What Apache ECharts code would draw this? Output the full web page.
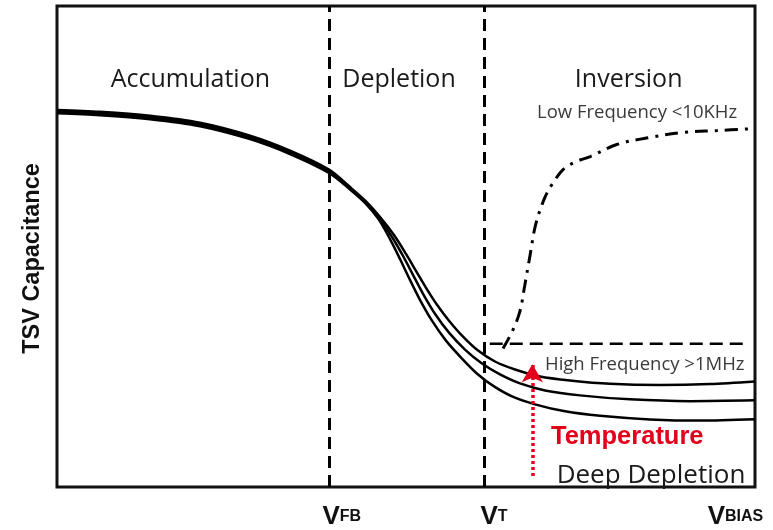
<!DOCTYPE html>
<html>
<head>
<meta charset="utf-8">
<script src="https://cdn.jsdelivr.net/npm/echarts@6/dist/echarts.min.js"></script>
<style>
  html, body { margin: 0; padding: 0; background: #fff; }
  #chart { width: 773px; height: 530px; }
</style>
</head>
<body>
<div id="chart"></div>
<script>
// C–V characteristic of a TSV (MOS-like) structure, arbitrary units.
// Bias (x) runs 0..100, capacitance (y) runs 0..100.

// High-frequency curves at three temperatures (low, mid, high)
const hfLowT = [
  [0, 77.70], [6.16, 77.29], [13.32, 76.46], [20.49, 75.01], [27.65, 72.32], [33.38, 69.22],
  [38.97, 65.28], [41.98, 61.86], [44.13, 59.07], [46.06, 55.69], [47.71, 51.55], [49.14, 47.41],
  [50.57, 43.06], [52.0, 38.92], [53.72, 34.58], [55.73, 30.43], [58.02, 26.71], [60.32, 23.40],
  [62.61, 20.91], [65.19, 18.84], [68.48, 17.18], [72.78, 15.73], [77.79, 14.80], [84.96, 14.05],
  [92.12, 13.80], [100, 14.08]
];
const hfMidT = [
  [0, 78.05], [6.16, 77.64], [13.32, 76.81], [20.49, 75.36], [27.65, 72.67], [33.38, 69.57],
  [38.97, 65.63], [41.98, 62.11], [44.13, 59.32], [46.13, 55.90], [48.0, 51.97], [49.57, 48.03],
  [51.0, 44.10], [52.44, 40.17], [54.15, 36.02], [56.16, 32.09], [58.45, 28.57], [60.89, 25.67],
  [63.47, 23.40], [66.33, 21.53], [69.91, 20.08], [74.93, 19.05], [82.09, 18.22], [90.69, 17.85],
  [100, 18.01]
];
const hfHighT = [
  [0, 78.40], [6.16, 77.99], [13.32, 77.16], [20.49, 75.71], [27.65, 73.02], [33.38, 69.92],
  [38.97, 65.98], [41.98, 62.36], [44.13, 59.57], [46.28, 56.11], [48.28, 52.38], [50.0, 48.45],
  [51.43, 44.93], [52.87, 41.41], [54.44, 37.89], [56.16, 34.58], [58.17, 31.26], [60.32, 28.36],
  [62.75, 26.09], [65.62, 24.43], [69.2, 22.98], [73.5, 22.15], [79.23, 21.45], [86.39, 21.20],
  [93.55, 21.40], [100, 21.95]
];

// Low-frequency response, recovering towards the oxide capacitance
const lfCurve = [
  [63.9, 28.8], [65.2, 32.3], [66.3, 36.4], [67.0, 41.8], [67.8, 48.4], [68.6, 54.7],
  [69.9, 60.2], [71.1, 63.3], [72.5, 66.0], [74.3, 67.6], [76.4, 68.7], [80.2, 71.2],
  [85.0, 72.7], [89.7, 73.7], [94.6, 74.1], [99.6, 74.5]
];

// High-frequency inversion level
const hfLevel = [[62.0, 29.8], [99.0, 29.8]];

// Characteristic voltages
const vFlatBand = 39.0;
const vThreshold = 61.2;

// Tick labels on the bias axis (subscripts of V) and their positions
const tickSubs = ['FB', 'T', 'BIAS'];
const tickPos = [40.8, 62.6, 97.2];

// Temperature arrow (start, end)
const tempArrow = [[68.1, 2.3], [68.1, 25.5]];

// Region names and annotations
const regionNames = ['Accumulation', 'Depletion', 'Inversion'];
const regionPos = [[19.1, 84.7], [49.0, 84.7], [81.9, 84.7]];
const noteTexts = ['Low Frequency <10KHz', 'High Frequency >1MHz', 'Temperature', 'Deep Depletion'];
const notePos = [[83.1, 77.8], [84.2, 25.5], [81.7, 10.4], [85.1, 2.4]];

const textFont = '"Open Sans", "Noto Sans", sans-serif';
const boldFont = '"Liberation Sans", Arial, sans-serif';
const noteStyles = [
  { fontSize: 18.5, color: '#3a3a3a', fontFamily: textFont },
  { fontSize: 18.5, color: '#3a3a3a', fontFamily: textFont },
  { fontSize: 25.5, color: '#e3001b', fontWeight: 'bold', fontFamily: boldFont },
  { fontSize: 26, color: '#1a1a1a', fontFamily: textFont }
];

const chart = echarts.init(document.getElementById('chart'), null, { renderer: 'canvas' });

const curveStyle = { color: '#000', width: 2.5 };
function hfSeries(data) {
  return {
    type: 'line', data: data, smooth: 0.3, symbol: 'none',
    lineStyle: curveStyle, silent: true, z: 3
  };
}

const labelItems = regionNames.map((t, i) => ({
  value: regionPos[i],
  label: { show: true, position: 'inside', formatter: t, fontSize: 25, color: '#1a1a1a', fontFamily: textFont }
})).concat(noteTexts.map((t, i) => ({
  value: notePos[i],
  label: Object.assign({ show: true, position: 'inside', formatter: t }, noteStyles[i])
})));

chart.setOption({
  animation: false,
  backgroundColor: '#fff',
  grid: {
    left: 57, right: 18, top: 6, bottom: 41,
    show: true, borderColor: '#111', borderWidth: 3, backgroundColor: 'transparent'
  },
  xAxis: {
    type: 'value', min: 0, max: 100,
    splitLine: { show: false },
    axisLine: { show: false },
    axisTick: { show: false },
    axisLabel: {
      show: true,
      customValues: tickPos,
      margin: 17,
      formatter: function (v) {
        const i = tickPos.indexOf(v);
        return i < 0 ? '' : '{v|V}{s|' + tickSubs[i] + '}';
      },
      rich: {
        v: { fontSize: 26, fontWeight: 'bold', color: '#111', fontFamily: boldFont },
        s: { fontSize: 16, fontWeight: 'bold', color: '#111', fontFamily: boldFont, padding: [0, 0, 1, 0] }
      }
    }
  },
  yAxis: {
    type: 'value', min: 0, max: 100,
    name: 'TSV Capacitance',
    nameLocation: 'middle',
    nameGap: 12,
    nameTextStyle: {
      fontSize: 23.5, fontWeight: 'bold', color: '#111', fontFamily: boldFont,
      padding: [0, 24, 0, 0]
    },
    splitLine: { show: false },
    axisLine: { show: false },
    axisTick: { show: false },
    axisLabel: { show: false }
  },
  series: [
    hfSeries(hfLowT),
    hfSeries(hfMidT),
    hfSeries(hfHighT),
    {
      type: 'line', data: lfCurve, smooth: 0.35, symbol: 'none', silent: true,
      lineStyle: { color: '#000', width: 3, type: [13, 7, 3, 7] }
    },
    {
      type: 'line', data: hfLevel, symbol: 'none', silent: true,
      lineStyle: { color: '#000', width: 2.5, type: [13, 7] },
      markLine: {
        silent: true,
        symbol: ['none', 'none'],
        label: { show: false },
        lineStyle: { color: '#000', width: 3, type: [12, 7] },
        data: [{ xAxis: vFlatBand }, { xAxis: vThreshold }]
      }
    },
    {
      type: 'line', data: [], silent: true,
      markLine: {
        silent: true,
        symbol: ['none', 'arrow'],
        symbolSize: [16, 18],
        label: { show: false },
        lineStyle: { color: '#e3001b', width: 3.5, type: [3, 3], opacity: 1 },
        itemStyle: { color: '#e3001b', opacity: 1 },
        data: [[{ coord: tempArrow[0] }, { coord: tempArrow[1] }]]
      }
    },
    {
      type: 'scatter', data: labelItems, symbolSize: 0, silent: true, z: 5,
      itemStyle: { opacity: 1 }
    }
  ]
});
</script>
</body>
</html>
